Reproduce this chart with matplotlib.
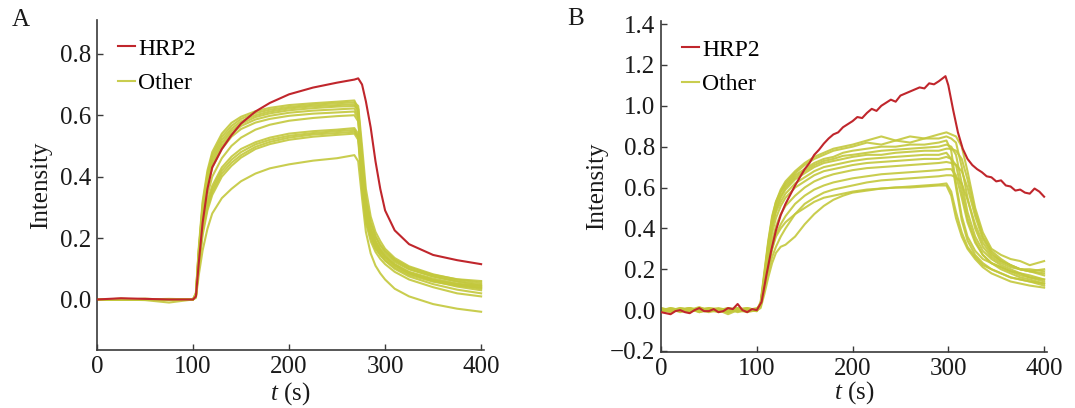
import matplotlib
matplotlib.use("Agg")
import matplotlib.pyplot as plt

plt.rcParams['font.family'] = ['Liberation Serif', 'DejaVu Serif']
plt.rcParams['mathtext.fontset'] = 'custom'
plt.rcParams['mathtext.rm'] = 'Liberation Serif'
plt.rcParams['mathtext.it'] = 'Liberation Serif:italic'

# ---------------- Panel A data ----------------
t_a = [0, 25, 50, 75, 100, 103, 106, 110, 115, 120, 130, 140, 150, 165, 180, 200,
       225, 250, 268, 272, 276, 280, 285, 290, 295, 300, 310, 325, 350, 375, 400]

hrp2_a = [0.0, 0.004, 0.002, 0.0, 0.0, 0.01, 0.12, 0.25, 0.36, 0.43, 0.49, 0.535, 0.573,
          0.612, 0.64, 0.668, 0.69, 0.706, 0.716, 0.72, 0.70, 0.645, 0.56, 0.45, 0.36,
          0.29, 0.225, 0.18, 0.145, 0.128, 0.115]

other_a = [
    [0.0, 0.002, 0.0, -0.002, 0.0, 0.02, 0.17, 0.32, 0.42, 0.48, 0.54, 0.575, 0.595, 0.613, 0.624, 0.633, 0.639, 0.644, 0.648, 0.62, 0.45, 0.32, 0.25, 0.205, 0.178, 0.158, 0.13, 0.105, 0.08, 0.066, 0.06],
    [0.0, 0.0, 0.002, 0.0, 0.0, 0.02, 0.16, 0.31, 0.41, 0.47, 0.53, 0.565, 0.588, 0.607, 0.618, 0.627, 0.634, 0.639, 0.642, 0.63, 0.50, 0.36, 0.27, 0.22, 0.19, 0.165, 0.135, 0.108, 0.082, 0.065, 0.055],
    [0.0, 0.002, 0.0, 0.0, 0.0, 0.02, 0.16, 0.30, 0.40, 0.46, 0.52, 0.556, 0.58, 0.60, 0.612, 0.622, 0.629, 0.633, 0.636, 0.61, 0.43, 0.30, 0.23, 0.19, 0.165, 0.148, 0.122, 0.098, 0.075, 0.06, 0.05],
    [0.0, 0.0, 0.0, 0.002, 0.0, 0.015, 0.15, 0.29, 0.39, 0.45, 0.51, 0.548, 0.572, 0.594, 0.606, 0.616, 0.623, 0.628, 0.63, 0.62, 0.47, 0.33, 0.25, 0.205, 0.175, 0.155, 0.127, 0.10, 0.075, 0.058, 0.045],
    [0.0, 0.0, 0.002, 0.0, 0.0, 0.015, 0.14, 0.28, 0.38, 0.44, 0.50, 0.54, 0.565, 0.586, 0.598, 0.608, 0.615, 0.619, 0.622, 0.60, 0.40, 0.28, 0.215, 0.18, 0.158, 0.14, 0.115, 0.09, 0.068, 0.052, 0.04],
    [0.0, 0.0, 0.0, 0.0, 0.0, 0.015, 0.14, 0.27, 0.37, 0.43, 0.49, 0.53, 0.555, 0.576, 0.588, 0.598, 0.605, 0.609, 0.612, 0.59, 0.42, 0.30, 0.225, 0.185, 0.16, 0.14, 0.113, 0.088, 0.064, 0.048, 0.035],
    [0.0, 0.002, 0.0, 0.0, 0.0, 0.01, 0.12, 0.25, 0.34, 0.40, 0.46, 0.50, 0.527, 0.553, 0.569, 0.582, 0.591, 0.597, 0.60, 0.58, 0.44, 0.31, 0.23, 0.19, 0.16, 0.14, 0.112, 0.085, 0.06, 0.042, 0.03],
    [0.0, 0.0, 0.0, 0.0, 0.0, 0.01, 0.12, 0.24, 0.32, 0.37, 0.43, 0.465, 0.49, 0.512, 0.527, 0.54, 0.548, 0.553, 0.558, 0.54, 0.40, 0.28, 0.21, 0.175, 0.152, 0.135, 0.11, 0.085, 0.062, 0.05, 0.045],
    [0.0, 0.0, 0.002, 0.0, 0.0, 0.01, 0.11, 0.23, 0.31, 0.36, 0.42, 0.455, 0.48, 0.505, 0.52, 0.533, 0.542, 0.548, 0.552, 0.53, 0.37, 0.26, 0.20, 0.165, 0.145, 0.128, 0.104, 0.08, 0.058, 0.045, 0.038],
    [0.0, 0.0, 0.0, 0.0, 0.0, 0.01, 0.11, 0.22, 0.30, 0.35, 0.41, 0.445, 0.47, 0.497, 0.513, 0.527, 0.537, 0.542, 0.546, 0.53, 0.41, 0.29, 0.215, 0.17, 0.145, 0.126, 0.10, 0.075, 0.05, 0.032, 0.02],
    [0.0, 0.0, 0.0, 0.0, 0.0, 0.01, 0.10, 0.21, 0.29, 0.34, 0.40, 0.435, 0.462, 0.49, 0.506, 0.52, 0.53, 0.536, 0.54, 0.52, 0.36, 0.25, 0.19, 0.155, 0.132, 0.115, 0.09, 0.065, 0.04, 0.02, 0.01],
    [0.0, 0.0, -0.002, -0.01, 0.0, 0.005, 0.08, 0.16, 0.23, 0.28, 0.33, 0.36, 0.385, 0.41, 0.427, 0.44, 0.452, 0.46, 0.47, 0.45, 0.33, 0.22, 0.15, 0.11, 0.085, 0.065, 0.035, 0.01, -0.015, -0.03, -0.04],
]

# ---------------- Panel B data ----------------
t_b_hrp2 = [0, 5, 10, 15, 20, 25, 30, 35, 40, 45, 50, 55, 60, 65, 70, 75, 80, 85, 90, 95,
            100, 105, 110, 115, 120, 125, 130, 135, 140, 145, 150, 155, 160, 165, 170,
            175, 180, 185, 190, 195, 200, 205, 210, 215, 220, 225, 230, 235, 240, 245,
            250, 255, 260, 265, 270, 275, 280, 285, 290, 297, 300, 305, 310, 315, 320,
            325, 330, 335, 340, 345, 350, 355, 360, 365, 370, 375, 380, 385, 390, 395, 400]

hrp2_b = [-0.01, -0.015, -0.02, -0.005, 0.0, -0.01, -0.015, 0.0, 0.01, -0.005, -0.005,
          0.005, -0.01, -0.005, 0.01, 0.005, 0.03, 0.0, -0.01, 0.005, 0.0, 0.04, 0.17,
          0.29, 0.39, 0.465, 0.52, 0.565, 0.61, 0.65, 0.69, 0.72, 0.76, 0.785, 0.815,
          0.84, 0.86, 0.87, 0.895, 0.91, 0.925, 0.945, 0.94, 0.965, 0.985, 0.975, 1.0,
          1.015, 1.03, 1.02, 1.05, 1.06, 1.07, 1.08, 1.09, 1.085, 1.11, 1.105, 1.12,
          1.145, 1.10, 0.98, 0.87, 0.79, 0.74, 0.71, 0.69, 0.675, 0.655, 0.65, 0.63,
          0.635, 0.61, 0.605, 0.585, 0.59, 0.575, 0.57, 0.595, 0.58, 0.555]

t_b = [0, 10, 20, 30, 40, 50, 60, 70, 80, 90, 100, 104, 108, 112, 116, 120, 125, 130,
       140, 150, 160, 170, 180, 190, 200, 215, 230, 245, 260, 275, 290, 298, 303, 308,
       314, 320, 328, 336, 345, 355, 365, 375, 385, 400]

other_b = [
    [0.01, -0.005, 0.01, 0.0, 0.015, -0.005, 0.005, 0.0, 0.01, -0.005, 0.0, 0.03, 0.18, 0.33, 0.45, 0.53, 0.59, 0.63, 0.68, 0.72, 0.75, 0.77, 0.79, 0.80, 0.81, 0.83, 0.85, 0.83, 0.85, 0.84, 0.86, 0.87, 0.86, 0.85, 0.80, 0.68, 0.50, 0.38, 0.30, 0.27, 0.25, 0.24, 0.22, 0.24],
    [-0.005, 0.01, 0.0, 0.01, -0.01, 0.005, 0.0, 0.01, -0.005, 0.0, 0.005, 0.03, 0.17, 0.32, 0.44, 0.52, 0.58, 0.62, 0.67, 0.71, 0.74, 0.76, 0.78, 0.79, 0.80, 0.82, 0.81, 0.83, 0.82, 0.84, 0.84, 0.85, 0.84, 0.82, 0.70, 0.55, 0.40, 0.31, 0.26, 0.23, 0.21, 0.20, 0.19, 0.18],
    [0.0, 0.005, -0.01, 0.0, 0.01, 0.0, -0.01, 0.005, 0.0, 0.01, 0.0, 0.04, 0.19, 0.34, 0.46, 0.53, 0.58, 0.61, 0.66, 0.69, 0.72, 0.74, 0.75, 0.77, 0.78, 0.79, 0.80, 0.80, 0.81, 0.81, 0.82, 0.83, 0.78, 0.62, 0.46, 0.36, 0.29, 0.25, 0.23, 0.21, 0.19, 0.18, 0.17, 0.15],
    [0.005, 0.0, 0.005, -0.005, 0.0, 0.01, 0.005, -0.01, 0.0, 0.005, 0.0, 0.03, 0.16, 0.30, 0.42, 0.50, 0.56, 0.60, 0.65, 0.68, 0.71, 0.73, 0.74, 0.755, 0.76, 0.77, 0.78, 0.785, 0.79, 0.795, 0.80, 0.81, 0.80, 0.76, 0.62, 0.48, 0.36, 0.29, 0.25, 0.22, 0.20, 0.18, 0.16, 0.14],
    [0.0, -0.01, 0.005, 0.01, 0.0, -0.005, 0.0, 0.005, 0.01, 0.0, -0.005, 0.02, 0.15, 0.29, 0.41, 0.49, 0.55, 0.59, 0.64, 0.67, 0.70, 0.72, 0.73, 0.74, 0.75, 0.76, 0.76, 0.77, 0.775, 0.78, 0.78, 0.79, 0.79, 0.78, 0.74, 0.64, 0.48, 0.36, 0.29, 0.25, 0.22, 0.20, 0.19, 0.17],
    [0.01, 0.0, 0.0, 0.005, -0.005, 0.0, 0.01, 0.0, -0.005, 0.005, 0.0, 0.03, 0.16, 0.30, 0.41, 0.48, 0.53, 0.57, 0.62, 0.65, 0.68, 0.70, 0.71, 0.72, 0.73, 0.74, 0.745, 0.75, 0.755, 0.76, 0.76, 0.77, 0.74, 0.60, 0.44, 0.34, 0.27, 0.23, 0.20, 0.18, 0.16, 0.15, 0.14, 0.13],
    [-0.01, 0.0, 0.01, 0.0, 0.005, 0.0, -0.005, 0.01, 0.0, -0.01, 0.0, 0.02, 0.14, 0.27, 0.38, 0.45, 0.51, 0.55, 0.60, 0.63, 0.66, 0.68, 0.69, 0.70, 0.71, 0.72, 0.725, 0.73, 0.735, 0.74, 0.74, 0.75, 0.74, 0.71, 0.58, 0.45, 0.34, 0.27, 0.23, 0.20, 0.18, 0.16, 0.15, 0.13],
    [0.0, 0.005, 0.0, -0.005, 0.01, 0.005, 0.0, -0.01, 0.005, 0.0, 0.01, 0.02, 0.12, 0.24, 0.34, 0.41, 0.47, 0.51, 0.56, 0.60, 0.63, 0.65, 0.665, 0.675, 0.685, 0.695, 0.70, 0.705, 0.71, 0.715, 0.72, 0.725, 0.72, 0.71, 0.68, 0.60, 0.46, 0.35, 0.28, 0.24, 0.22, 0.20, 0.19, 0.20],
    [0.005, 0.0, -0.005, 0.0, 0.0, 0.01, 0.0, 0.005, -0.01, 0.0, 0.0, 0.02, 0.11, 0.21, 0.30, 0.37, 0.42, 0.46, 0.52, 0.56, 0.59, 0.61, 0.625, 0.635, 0.645, 0.655, 0.665, 0.67, 0.675, 0.68, 0.685, 0.69, 0.69, 0.66, 0.55, 0.43, 0.33, 0.27, 0.23, 0.21, 0.19, 0.17, 0.16, 0.15],
    [0.0, 0.01, 0.0, 0.005, -0.01, 0.0, 0.005, 0.0, 0.005, 0.01, 0.0, 0.02, 0.10, 0.19, 0.26, 0.31, 0.36, 0.40, 0.47, 0.52, 0.55, 0.575, 0.59, 0.60, 0.61, 0.625, 0.635, 0.64, 0.645, 0.65, 0.655, 0.66, 0.66, 0.65, 0.62, 0.54, 0.42, 0.33, 0.27, 0.24, 0.22, 0.20, 0.20, 0.19],
    [-0.005, 0.0, 0.005, 0.0, 0.0, -0.01, 0.0, -0.02, 0.0, -0.005, 0.0, 0.01, 0.08, 0.16, 0.23, 0.28, 0.31, 0.32, 0.36, 0.42, 0.47, 0.51, 0.54, 0.56, 0.575, 0.585, 0.595, 0.60, 0.605, 0.61, 0.615, 0.62, 0.58, 0.48, 0.38, 0.31, 0.26, 0.22, 0.20, 0.18, 0.16, 0.15, 0.14, 0.12],
    [0.0, -0.005, 0.0, 0.01, 0.0, 0.0, 0.005, 0.0, 0.0, 0.005, -0.005, 0.02, 0.12, 0.22, 0.30, 0.36, 0.40, 0.43, 0.47, 0.50, 0.53, 0.55, 0.56, 0.57, 0.58, 0.59, 0.595, 0.60, 0.60, 0.605, 0.61, 0.61, 0.56, 0.45, 0.36, 0.30, 0.25, 0.21, 0.18, 0.16, 0.14, 0.13, 0.12, 0.11],
]

series_labels = ["HRP2", "Other"]
panel_labels = ["A", "B"]
x_ticks = [0, 100, 200, 300, 400]
y_ticks_a = [0.0, 0.2, 0.4, 0.6, 0.8]
y_ticks_b = [-0.2, 0.0, 0.2, 0.4, 0.6, 0.8, 1.0, 1.2, 1.4]

RED = "#c0262c"
GREEN = "#c3c83c"
TXT = "#1a1a1a"
W, H = 1075, 408

fig = plt.figure(figsize=(W / 100, H / 100), dpi=100)
fig.patch.set_facecolor("white")


def px_axes(left, top, right, bottom):
    return fig.add_axes([left / W, (H - bottom) / H, (right - left) / W, (bottom - top) / H])


axA = px_axes(97, 20, 484, 350)
axB = px_axes(661, 21, 1047, 352)

panels = [
    (axA, t_a, t_a, hrp2_a, other_a, y_ticks_a, (-0.1645, 0.91), -0.116, -0.09),
    (axB, t_b, t_b_hrp2, hrp2_b, other_b, y_ticks_b, (-0.205, 1.415), -0.137, -0.083),
]

for ax, t, t_red, hrp2, others, yt, ylim, ylab_x, xlab_y in panels:
    for k, ys in enumerate(others):
        ax.plot(t, ys, color=GREEN, lw=1.5, alpha=0.9,
                label=series_labels[1] if k == 0 else None, zorder=2)
    ax.plot(t_red, hrp2, color=RED, lw=1.5, label=series_labels[0], zorder=3)
    ax.set_xlim(0, 403)
    ax.set_ylim(*ylim)
    ax.set_xticks(x_ticks)
    ax.set_yticks(yt)
    ax.set_xticklabels([str(v) for v in x_ticks])
    ax.set_yticklabels([("\u2212" if v < 0 else "") + f"{abs(v):.1f}" for v in yt])
    for s in ["top", "right"]:
        ax.spines[s].set_visible(False)
    for s in ["left", "bottom"]:
        ax.spines[s].set_color("#3a3a3a")
        ax.spines[s].set_linewidth(1.2)
    ax.tick_params(direction="in", length=4, width=1.0, color="#3a3a3a",
                   labelsize=18, labelcolor=TXT, pad=4)
    ax.set_ylabel("Intensity", fontsize=18, color=TXT)
    ax.yaxis.set_label_coords(ylab_x, 0.5)
    ax.set_xlabel("$t$ (s)", fontsize=18, color=TXT)
    ax.xaxis.set_label_coords(0.5, xlab_y)
    h, l = ax.get_legend_handles_labels()
    order = [l.index("HRP2"), l.index("Other")]
    ax.legend([h[i] for i in order], [l[i] for i in order], loc="upper left",
              bbox_to_anchor=(0.055, 0.945), frameon=False, fontsize=17,
              handlelength=0.7, handletextpad=0.15, labelspacing=0.55, borderpad=0,
              borderaxespad=0)

fig.text(12 / W, 1 - 20 / H, panel_labels[0], fontsize=18, va="center", ha="left", color=TXT)
fig.text(567 / W, 1 - 19 / H, panel_labels[1], fontsize=18, va="center", ha="left", color=TXT)

fig.savefig("out.png", dpi=100, facecolor="white")
